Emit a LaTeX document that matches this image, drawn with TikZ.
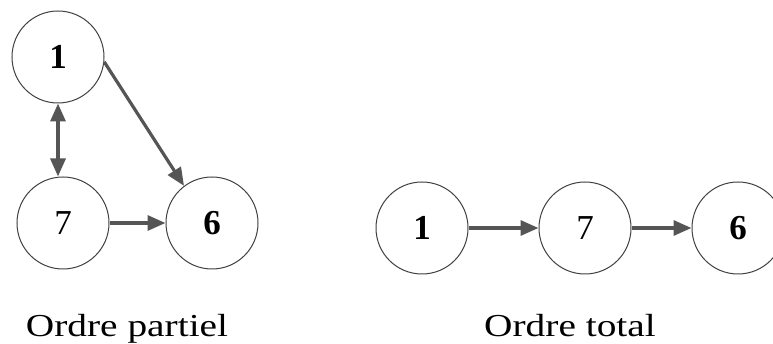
\documentclass[tikz,border=0pt]{standalone}
\usepackage{fontspec}
\setmainfont{Liberation Serif}
\usetikzlibrary{arrows.meta}
\definecolor{edgegray}{HTML}{555555}
\definecolor{rimgray}{HTML}{404040}
\tikzset{
  vertex/.style={circle, draw=rimgray, line width=1pt, minimum size=92pt, inner sep=0pt, font=\fontsize{35}{35}\selectfont},
  link/.style={draw=edgegray, line width=3.2pt, -{Triangle[length=18pt,width=15pt]}},
  biglabel/.style={font=\fontsize{32}{32}\selectfont, xscale=1.23, anchor=base, inner sep=0pt}
}
\begin{document}
\begin{tikzpicture}[x=1pt,y=-1pt]
\useasboundingbox (0,0) rectangle (773,344);
% partial order
\node[vertex] (a1) at (58,57) {\textbf{1}};
\node[vertex] (a7) at (63,223) {7};
\node[vertex] (a6) at (212,223) {\textbf{6}};
\draw[link] (a1.-6) -- (a6.127);
\draw[link, {Triangle[length=18pt,width=15pt]}-{Triangle[length=18pt,width=15pt]}] (a1.south) -- (a1.south |- a7.north);
\draw[link] (a7) -- (a6);
\node[biglabel] (lp) at (127,337) {Ordre partiel};
% total order
\node[vertex] (b1) at (422,228) {\textbf{1}};
\node[vertex] (b7) at (585,228) {7};
\node[vertex] (b6) at (738,228) {\textbf{6}};
\draw[link] (b1) -- (b7);
\draw[link] (b7) -- (b6);
\node[biglabel] (lt) at (570,337) {Ordre total};
\end{tikzpicture}
\end{document}
